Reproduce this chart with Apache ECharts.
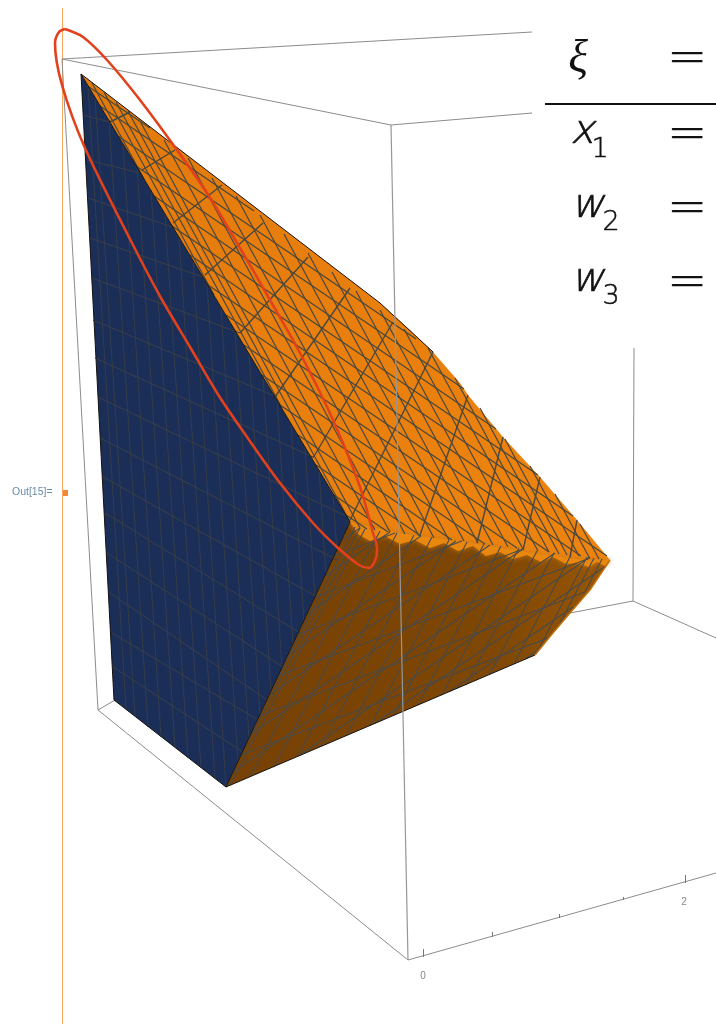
<!DOCTYPE html>
<html>
<head>
<meta charset="utf-8">
<title>Out[15]</title>
<style>
    html, body { margin: 0; padding: 0; background: #fff; }
    #main { width: 716px; height: 1024px; }
</style>
<script src="https://cdn.jsdelivr.net/npm/echarts@6/dist/echarts.min.js"></script>
</head>
<body>
<div id="main"></div>
<script>
var cellLabel = 'Out[15]=';
var tickLabels = ['0', '2'];
var tickLabelPoints = [[423, 976], [684, 902]];
var equationSymbols = ['ξ', 'x', 'w', 'w'];
var equationSubscripts = ['', '1', '2', '3'];

// bounding box
var frameBack = [
    [62, 59, 532, 32], [62, 59, 391, 125], [391, 125, 532, 113], [62, 59, 98, 710],
    [98, 710, 408, 960], [98, 710, 115, 700], [633, 601, 570, 613], [633, 601, 716, 638],
    [634, 348, 633, 601], [408, 960, 716, 873]
];
var frameFront = [[391, 125, 408, 960]];
var axisTicks = [
    [423, 957, 423, 949], [492, 937, 492, 932], [559, 918, 559, 914],
    [623, 900, 623, 897], [685, 883, 685, 875]
];

// surface faces
var navyFace = [[81, 74], [114, 700], [226, 787], [350, 522]];
var topFace = [
    [81, 74], [380, 303], [410, 330], [433, 352], [460, 383], [468, 395], [503, 437],
    [540, 477], [577, 520], [610, 560], [577, 559], [527, 552], [473, 543], [400, 533], [352, 525], [350, 522]
];
var frontFace = [
    [350, 522], [352, 525], [400, 533], [473, 543], [527, 552], [577, 559], [610, 560], [600, 575],
    [590, 590], [570, 613], [553, 633], [535, 655], [226, 787]
];
var creaseTeeth = [
    [350, 522], [400, 533], [473, 543], [527, 552], [577, 559], [610, 560], [605, 566], [597, 562],
    [589, 567], [577, 563], [566, 564], [553, 557], [541, 562], [527, 555], [513, 559], [500, 552],
    [486, 556], [473, 546], [458, 551], [444, 543], [430, 548], [415, 540], [400, 544], [385, 536],
    [370, 541], [358, 534]
];
var surfaceEdges = [
    [81, 74, 380, 303], [380, 303, 433, 352], [81, 74, 114, 700], [114, 700, 226, 787],
    [81, 74, 350, 522], [350, 522, 226, 787], [226, 787, 535, 655]
];
var rightFringe = [
    [610, 560, 600, 575], [600, 575, 590, 590], [590, 590, 570, 613], [570, 613, 553, 633], [553, 633, 535, 655]
];

// mesh on the top face
var topRibs = [
    [130, 112, 110, 122], [175, 150, 142, 170], [222, 185, 173, 223], [263, 223, 205, 275],
    [308, 257, 240, 333], [350, 288, 275, 397], [393, 322, 313, 458], [433, 352, 350, 520],
    [468, 395, 420, 535], [503, 437, 477, 543], [540, 477, 523, 550], [577, 520, 570, 557]
];
var topShallow = [
    [89, 87, 150, 128], [100, 106, 254, 211], [118, 136, 416, 339], [136, 166, 464, 389],
    [154, 196, 496, 429], [172, 226, 538, 475], [190, 255, 573, 516], [208, 285, 607, 556],
    [226, 315, 581, 556], [244, 345, 549, 552], [262, 375, 517, 548], [280, 405, 485, 544],
    [298, 435, 452, 540], [316, 465, 421, 536], [334, 495, 388, 532], [346, 515, 367, 529]
];
var topSteep = [
    [92, 83, 144, 179], [104, 92, 214, 295], [116, 102, 282, 408], [128, 111, 350, 522],
    [140, 121, 360, 528], [164, 140, 375, 530], [188, 158, 390, 532], [212, 178, 405, 534],
    [236, 196, 419, 536], [260, 215, 434, 538], [284, 234, 449, 540], [308, 253, 464, 541],
    [332, 272, 478, 543], [356, 291, 493, 545], [380, 310, 508, 547], [404, 329, 523, 549],
    [428, 348, 538, 551], [455, 378, 549, 552], [480, 408, 559, 554], [505, 439, 567, 555],
    [530, 466, 579, 556], [555, 494, 589, 557], [580, 524, 599, 559]
];

// mesh on the front face
var frontLong = [
    [241, 755, 548, 638], [259, 716, 585, 592], [278, 676, 590, 558], [297, 635, 523, 549],
    [315, 597, 462, 541], [334, 556, 395, 533]
];
var frontMiddle = [
    [233, 772, 555, 553], [251, 734, 523, 549], [269, 695, 490, 545], [288, 655, 456, 541],
    [307, 614, 421, 536], [325, 576, 390, 532], [341, 541, 360, 528], [300, 755, 590, 557],
    [375, 723, 606, 566], [450, 691, 573, 607], [525, 659, 540, 649]
];
var frontSteep = [
    [240, 757, 360, 528], [270, 693, 355, 527], [230, 785, 365, 529], [250, 777, 380, 531],
    [274, 767, 397, 533], [298, 756, 414, 535], [322, 746, 432, 537], [346, 736, 449, 540],
    [370, 726, 467, 542], [394, 715, 484, 544], [418, 705, 501, 546], [442, 695, 519, 548],
    [466, 685, 537, 551], [490, 674, 554, 553], [514, 664, 571, 555], [536, 654, 587, 557],
    [560, 623, 594, 558], [585, 592, 602, 559]
];

// mesh on the navy face
var navyCross = [
    [83, 115, 110, 122], [87, 160, 140, 173], [88, 198, 172, 227], [90, 238, 203, 277],
    [92, 278, 240, 333], [93, 320, 277, 397], [95, 358, 313, 457], [98, 397, 348, 517],
    [100, 438, 337, 560], [103, 477, 317, 597], [105, 513, 300, 633], [107, 553, 283, 667],
    [110, 593, 267, 700], [112, 633, 258, 720], [113, 667, 243, 752]
];
var navyDown = [
    [88, 86, 126, 708], [95, 97, 135, 716], [109, 120, 148, 727], [123, 144, 161, 737],
    [137, 167, 175, 747], [151, 190, 188, 758], [165, 214, 201, 768], [179, 237, 215, 778],
    [193, 260, 226, 787], [207, 284, 238, 761], [221, 307, 249, 738], [235, 330, 260, 715],
    [249, 354, 271, 691], [263, 377, 282, 668], [277, 400, 293, 645], [291, 424, 304, 622],
    [305, 447, 315, 599], [319, 470, 326, 576], [333, 494, 337, 552]
];

// hand drawn red loop
var redLoop = [
    [65, 29], [83, 37], [107, 60], [140, 100], [177, 150], [207, 193], [240, 248], [270, 300],
    [300, 353], [333, 420], [360, 487], [373, 533], [377, 548], [376, 558], [369, 568], [359, 565],
    [337, 547], [313, 523], [280, 483], [247, 437], [219, 396], [190, 347], [161, 298], [132, 243],
    [85, 148], [62, 85], [55, 43], [59, 32], [65, 29]
];

var MATH_FONT = '"DejaVu Sans Light", "DejaVu Sans", sans-serif';

function segments(name, list, color, width, z) {
    return {
        name: name,
        type: 'lines',
        coordinateSystem: 'cartesian2d',
        polyline: false,
        silent: true,
        z: z,
        lineStyle: { color: color, width: width, opacity: 1, curveness: 0 },
        data: list.map(function (s) {
            return { coords: [[s[0], s[1]], [s[2], s[3]]] };
        })
    };
}

function face(name, points, fill, z, glow) {
    return {
        name: name,
        type: 'custom',
        coordinateSystem: 'cartesian2d',
        silent: true,
        clip: false,
        z: z,
        data: points,
        renderItem: function (params, api) {
            if (params.dataIndex !== 0) {
                return null;
            }
            return {
                type: 'polygon',
                shape: { points: points.map(function (p) { return api.coord(p); }) },
                style: { fill: fill, shadowBlur: glow || 0, shadowColor: glow ? '#c9760c' : 'transparent' }
            };
        }
    };
}

function textPoints(name, points, texts, color, size, z) {
    return {
        name: name,
        type: 'scatter',
        silent: true,
        symbolSize: 0,
        z: z,
        data: points.map(function (p, i) {
            return {
                value: p,
                label: {
                    show: true, position: 'inside', formatter: texts[i], color: color,
                    fontSize: size, fontFamily: 'Liberation Sans, sans-serif'
                }
            };
        })
    };
}

// equation panel in the top right corner
function equationPanel() {
    var rowY = [60, 136, 210, 284];
    var symbolX = [578, 582, 587, 587];
    var subY = [0, 150, 223, 297];
    var subX = [0, 600, 611, 611];
    var els = [
        { type: 'rect', shape: { x: 532, y: 0, width: 184, height: 346 }, style: { fill: '#fff' }, z: 20 },
        { type: 'line', shape: { x1: 545, y1: 104, x2: 716, y2: 104 }, style: { stroke: '#111', lineWidth: 2 }, z: 21 }
    ];
    equationSymbols.forEach(function (s, i) {
        els.push({
            type: 'text', z: 21,
            style: {
                x: symbolX[i], y: i === 0 ? rowY[i] : rowY[i] - 3, text: s, align: 'center', verticalAlign: 'middle',
                font: 'italic ' + (i === 0 ? 46 : 40) + 'px ' + (i === 0 ? '"Liberation Serif"' : MATH_FONT), fill: '#111',
                stroke: i === 0 ? 'transparent' : '#111', lineWidth: 0.7
            }
        });
        els.push({
            type: 'text', z: 21,
            style: {
                x: 687, y: rowY[i], text: '=', align: 'center', verticalAlign: 'middle',
                font: '48px ' + MATH_FONT, fill: '#111', stroke: '#111', lineWidth: 0.4
            }
        });
        if (equationSubscripts[i]) {
            els.push({
                type: 'text', z: 21,
                style: {
                    x: subX[i], y: subY[i], text: equationSubscripts[i], align: 'center', verticalAlign: 'middle',
                    font: '27px ' + MATH_FONT, fill: '#111', stroke: '#111', lineWidth: 0.5
                }
            });
        }
    });
    return els;
}

var myChart = echarts.init(document.getElementById('main'));
var option = {
    animation: false,
    backgroundColor: '#fff',
    grid: { left: 0, right: 0, top: 0, bottom: 0 },
    xAxis: { type: 'value', min: 0, max: 716, show: false },
    yAxis: { type: 'value', min: 0, max: 1024, inverse: true, show: false },
    graphic: [
        { type: 'line', shape: { x1: 62.5, y1: 8, x2: 62.5, y2: 1024 }, style: { stroke: '#f7a660', lineWidth: 1 }, z: 1 },
        { type: 'rect', shape: { x: 63, y: 490, width: 5, height: 6 }, style: { fill: '#ee8a3a' }, z: 1 },
        {
            type: 'text', z: 1,
            style: { x: 12, y: 492, text: cellLabel, verticalAlign: 'middle', font: '10.5px "Liberation Sans"', fill: '#6a8cab' }
        }
    ].concat(equationPanel()),
    series: [
        segments('frameBack', frameBack, '#8c8c8c', 1, 2),
        segments('axisTicks', axisTicks, '#777', 1, 2),
        textPoints('tickLabels', tickLabelPoints, tickLabels, '#666', 10, 2),
        face('navy', navyFace, '#1a2e58', 3),
        face('top', topFace, {
            type: 'linear', x: 0, y: 0, x2: 1, y2: 1,
            colorStops: [{ offset: 0, color: '#e27a0c' }, { offset: 1, color: '#ee840f' }]
        }, 3),
        face('front', frontFace, {
            type: 'linear', x: 0, y: 0, x2: 1, y2: 0,
            colorStops: [{ offset: 0, color: '#774105' }, { offset: 0.7, color: '#7e4705' }, { offset: 1, color: '#9a5706' }]
        }, 3),
        face('crease', creaseTeeth, '#e9870f', 4, 5),
        segments('navyCross', navyCross, '#3c3f45', 1, 5),
        segments('navyDown', navyDown, '#383d47', 0.9, 5),
        segments('topShallow', topShallow, '#4a473c', 1.2, 5),
        segments('topSteep', topSteep, '#4a473c', 1.2, 5),
        segments('topRibs', topRibs, '#4a473c', 1.4, 5),
        segments('frontLong', frontLong, '#4a4a48', 1.1, 5),
        segments('frontMiddle', frontMiddle, '#4a4a48', 1.1, 5),
        segments('frontSteep', frontSteep, '#4a4a48', 1.1, 5),
        segments('surfaceEdges', surfaceEdges, '#15120e', 1, 6),
        segments('rightFringe', rightFringe, '#c2710b', 1.4, 6),
        segments('frameFront', frameFront, '#979797', 1.2, 7),
        {
            name: 'redLoop',
            type: 'line',
            silent: true,
            z: 8,
            smooth: 0.3,
            showSymbol: false,
            lineStyle: { color: '#e1411c', width: 2.6 },
            data: redLoop
        }
    ]
};
myChart.setOption(option);
</script>
</body>
</html>
